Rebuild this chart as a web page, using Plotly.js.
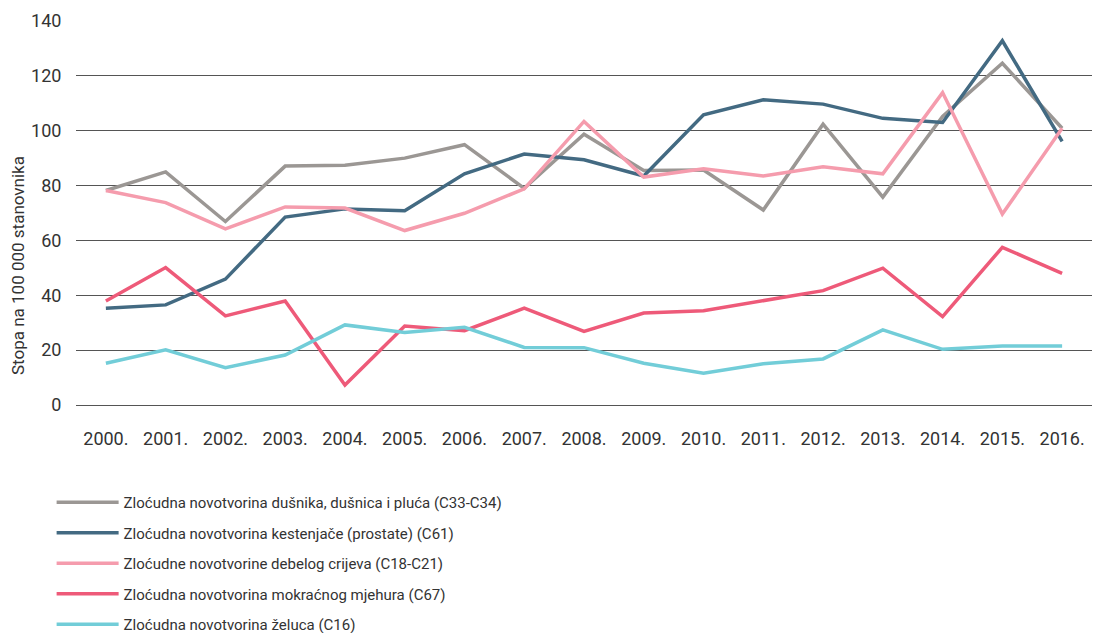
<!DOCTYPE html>
<html>
<head>
<meta charset="utf-8">
<script src="https://cdn.plot.ly/plotly-3.0.1.min.js"></script>
<style>html,body{margin:0;padding:0;background:#fff;}#chart{width:1093px;height:633px;}</style>
</head>
<body>
<div id="chart"></div>
<script>
const years = ["2000.","2001.","2002.","2003.","2004.","2005.","2006.","2007.","2008.","2009.","2010.","2011.","2012.","2013.","2014.","2015.","2016."];
const seriesNames = [
  "Zloćudna novotvorina dušnika, dušnica i pluća (C33-C34)",
  "Zloćudna novotvorina kestenjače (prostate) (C61)",
  "Zloćudne novotvorine debelog crijeva (C18-C21)",
  "Zloćudna novotvorina mokraćnog mjehura (C67)",
  "Zloćudna novotvorina želuca (C16)"
];
const lung     = [78.2, 85.0, 66.9, 87.1, 87.4, 90.0, 94.9, 79.0, 98.7, 85.5, 85.7, 71.1, 102.4, 75.8, 105.2, 124.6, 100.9];
const prostate = [35.3, 36.5, 45.9, 68.5, 71.5, 70.8, 84.3, 91.5, 89.4, 83.5, 105.8, 111.3, 109.7, 104.5, 103.0, 132.8, 96.1];
const colon    = [78.2, 73.8, 64.2, 72.2, 71.8, 63.6, 69.9, 78.8, 103.4, 83.1, 86.1, 83.5, 86.9, 84.3, 113.9, 69.6, 100.9];
const bladder  = [37.9, 50.1, 32.5, 37.9, 7.3, 28.8, 27.1, 35.3, 26.8, 33.5, 34.4, 37.9, 41.7, 49.9, 32.2, 57.5, 48.0];
const stomach  = [15.2, 20.1, 13.6, 18.2, 29.2, 26.4, 28.3, 21.0, 20.9, 15.2, 11.6, 15.0, 16.8, 27.4, 20.3, 21.5, 21.5];
const yTicks = [0, 20, 40, 60, 80, 100, 120, 140];
const yTitle = "Stopa na 100 000 stanovnika";

const colors = ["#9b9794", "#436a82", "#f59cad", "#ee5a79", "#72cdd8"];
const allSeries = [lung, prostate, colon, bladder, stomach];

const FONT = "Roboto, 'Noto Sans', sans-serif";

const traces = allSeries.map((vals, i) => ({
  type: "scatter",
  mode: "lines",
  x: years,
  y: vals,
  name: seriesNames[i],
  legendgroup: "g" + i,
  line: {color: colors[i], width: 3.5}
}));

const layout = {
  width: 1093,
  height: 633,
  margin: {l: 76, r: 1, t: 21, b: 228, autoexpand: false},
  paper_bgcolor: "#ffffff",
  plot_bgcolor: "#ffffff",
  font: {family: FONT, size: 18, color: "#333333"},
  showlegend: true,
  legend: {
    orientation: "v",
    xref: "paper", yref: "paper",
    x: -0.024, y: -0.211,
    xanchor: "left", yanchor: "top",
    itemwidth: 62,
    tracegroupgap: 8,
    font: {family: FONT, size: 15, color: "#333333"},
    bgcolor: "rgba(0,0,0,0)"
  },
  xaxis: {
    type: "category",
    range: [-0.5, 16.5],
    showgrid: false,
    zeroline: false,
    showline: false,
    ticks: "outside",
    ticklen: 17,
    tickcolor: "rgba(0,0,0,0)",
    tickangle: 0,
    tickfont: {family: FONT, size: 18, color: "#333333"}
  },
  yaxis: {
    range: [0, 140],
    tickvals: yTicks,
    ticktext: yTicks.map(String),
    showgrid: true,
    gridcolor: "#555555",
    gridwidth: 1,
    zeroline: true,
    zerolinecolor: "#555555",
    zerolinewidth: 1,
    showline: false,
    ticks: "outside",
    ticklen: 10,
    tickcolor: "rgba(0,0,0,0)",
    tickfont: {family: FONT, size: 18, color: "#333333"}
  },
  annotations: [{
    text: yTitle,
    xref: "paper", yref: "paper",
    x: (18 - 76) / 1016, y: (405 - 266) / 384,
    xanchor: "center", yanchor: "middle",
    textangle: -90,
    showarrow: false,
    font: {family: FONT, size: 17, color: "#333333"}
  }]
};

Plotly.newPlot("chart", traces, layout, {displayModeBar: false, staticPlot: true});
</script>
</body>
</html>
